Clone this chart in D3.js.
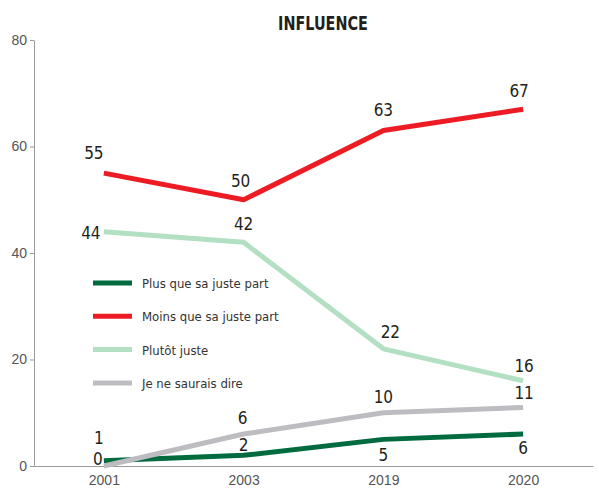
<!DOCTYPE html>
<meta charset="utf-8">
<style>
    body { margin: 0; background: #fff; }
    svg { font-family: "DejaVu Sans Condensed", "Liberation Sans Narrow", sans-serif; }
    .axis path, .axis line { fill: none; stroke: #9a9a9a; }
    .axis text { fill: #555; font-size: 14px; }
    .val { fill: #231f20; font-size: 17px; }
    .leg { fill: #333; font-size: 13px; }
</style>
<body>
<script src="https://d3js.org/d3.v7.min.js"></script>
<script>
    var years = ["2001", "2003", "2019", "2020"];
    var yTicks = [0, 20, 40, 60, 80];

    var seriesNames = ["Plus que sa juste part", "Moins que sa juste part", "Plutôt juste", "Je ne saurais dire"];
    var plusValues = [1, 2, 5, 6];
    var moinsValues = [55, 50, 63, 67];
    var plutotValues = [44, 42, 22, 16];
    var neSaitValues = [0, 6, 10, 11];
    var colors = ["#006b3f", "#ed1c24", "#b3dfc2", "#bdbdc1"];

    // label offsets (dx, dy) from each point
    var labelOffsets = [
        [[-5, -17], [0, -4], [0, 22], [0, 20]],
        [[-10, -14], [-3, -13], [0, -15], [-4, -12]],
        [[-13, 7], [0, -12], [7, -11], [1, -9]],
        [[-6, -1], [-1, -10], [0, -10], [1, -8]]
    ];

    var allValues = [plusValues, moinsValues, plutotValues, neSaitValues];

    var width = 599, height = 491;
    var margin = {top: 40, right: 6, bottom: 25, left: 34};

    var svg = d3.select("body").append("svg")
        .attr("width", width)
        .attr("height", height);

    var x = d3.scalePoint()
        .domain(years)
        .range([margin.left, width - margin.right])
        .padding(0.5);

    var y = d3.scaleLinear()
        .domain([0, 80])
        .range([height - margin.bottom, margin.top]);

    svg.append("text")
        .attr("transform", "translate(323,30) scale(0.8,1)")
        .attr("text-anchor", "middle")
        .style("font-size", "20px")
        .style("font-weight", "bold")
        .style("fill", "#231f20")
        .text("INFLUENCE");

    svg.append("g")
        .attr("class", "y axis")
        .attr("transform", "translate(" + margin.left + ",0)")
        .call(d3.axisLeft(y).tickValues(yTicks).tickSize(4).tickSizeOuter(0).tickPadding(3));

    svg.append("g")
        .attr("class", "x axis")
        .attr("transform", "translate(0," + (height - margin.bottom) + ")")
        .call(d3.axisBottom(x).tickSize(0).tickSizeOuter(0).tickPadding(9));

    var line = d3.line()
        .x(function(d, i) { return x(years[i]); })
        .y(function(d) { return y(d); });

    allValues.forEach(function(vals, s) {
        svg.append("path")
            .datum(vals)
            .attr("fill", "none")
            .attr("stroke", colors[s])
            .attr("stroke-width", 5)
            .attr("stroke-linejoin", "round")
            .attr("d", line);
    });

    allValues.forEach(function(vals, s) {
        svg.selectAll(".val" + s)
            .data(vals)
            .enter().append("text")
            .attr("class", "val")
            .attr("text-anchor", "middle")
            .attr("x", function(d, i) { return x(years[i]) + labelOffsets[s][i][0]; })
            .attr("y", function(d, i) { return y(d) + labelOffsets[s][i][1]; })
            .text(function(d) { return d; });
    });

    var legend = svg.append("g").attr("transform", "translate(93,283)");
    seriesNames.forEach(function(name, s) {
        var g = legend.append("g").attr("transform", "translate(0," + (s * 33.3) + ")");
        g.append("line")
            .attr("x1", 0).attr("x2", 39)
            .attr("stroke", colors[s])
            .attr("stroke-width", 5);
        g.append("text")
            .attr("class", "leg")
            .attr("x", 49)
            .attr("y", 5)
            .text(name);
    });
</script>
</body>
